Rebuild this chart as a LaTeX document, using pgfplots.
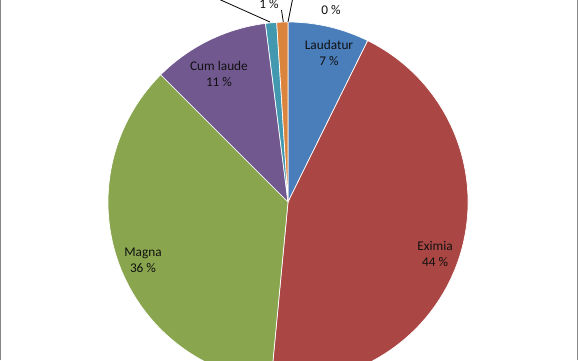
\documentclass[border=0pt]{standalone}
\usepackage{pgfplots}
\usepackage{pgfplotstable}
\pgfplotsset{compat=1.18}
\usepackage{fontspec}
\setmainfont{Carlito}
\definecolor{cA}{HTML}{4A7EBB}
\definecolor{cB}{HTML}{AA4643}
\definecolor{cC}{HTML}{89A54E}
\definecolor{cD}{HTML}{71588F}
\definecolor{cE}{HTML}{4198AF}
\definecolor{cF}{HTML}{DB843D}
\definecolor{cG}{HTML}{4A7EBB}
\definecolor{frame}{HTML}{868686}
\definecolor{txt}{HTML}{111111}

% share of each slice, in %, clockwise from 12 o'clock
\pgfplotstableread{
name value
Laudatur 7.3
Eximia 44.2
Magna 36.0
Cumlaude 10.5
Other1 1.0
Other2 1.0
Other3 0.0
}\piedata

\begin{document}
\begin{tikzpicture}
\gdef\cum{0}
\foreach \i in {0,...,6}{%
  \pgfplotstablegetelem{\i}{value}\of\piedata
  \pgfmathsetmacro\s{90-3.6*\cum}%
  \pgfmathsetmacro\nc{\cum+\pgfplotsretval}%
  \pgfmathsetmacro\e{90-3.6*\nc}%
  \expandafter\xdef\csname sA\i\endcsname{\s}%
  \expandafter\xdef\csname sE\i\endcsname{\e}%
  \xdef\cum{\nc}%
}
\begin{axis}[
  scale only axis, width=578pt, height=360pt,
  xmin=0, xmax=578, ymin=0, ymax=360,
  hide axis, clip=true,
  font=\fontsize{13.3}{16}\selectfont,
]
\pgfplotsinvokeforeach{0/cA,1/cB,2/cC,3/cD,4/cE,5/cF}{%
  \pgfplotsinvokeforeach{#1}{}%
}
\newcommand\slice[2]{%
  \fill[#2, draw=white, line width=0.7pt] (axis cs:288,158) -- ++(\csname sA#1\endcsname:180pt)
    arc[start angle=\csname sA#1\endcsname, end angle=\csname sE#1\endcsname, radius=180pt] -- cycle;}
\slice{0}{cA}
\slice{1}{cB}
\slice{2}{cC}
\slice{3}{cD}
\slice{4}{cE}
\slice{5}{cF}
% leader lines
\draw[black, line width=0.8pt] (axis cs:214,363) -- (axis cs:270,338);
\draw[black, line width=0.8pt] (axis cs:281.5,350) -- (axis cs:283.3,338);
\draw[black, line width=0.8pt] (axis cs:293,363) -- (axis cs:288,338);
% labels
\node[txt, align=center] at (axis cs:329,307) {Laudatur\\7 \%};
\node[txt, align=center] at (axis cs:435,106) {Eximia\\44 \%};
\node[txt, align=center] at (axis cs:143,100) {Magna\\36 \%};
\node[txt, align=center] at (axis cs:219,286) {Cum laude\\11 \%};
\node[txt] at (axis cs:269,356) {1 \%};
\node[txt] at (axis cs:331,350) {0 \%};
% frame sides
\draw[frame, line width=1pt] (axis cs:0.5,0) -- (axis cs:0.5,360);
\draw[frame, line width=1pt] (axis cs:577,0) -- (axis cs:577,360);
\end{axis}
\pgfresetboundingbox
\useasboundingbox (current axis.south west) rectangle (current axis.north east);
\end{tikzpicture}
\end{document}
